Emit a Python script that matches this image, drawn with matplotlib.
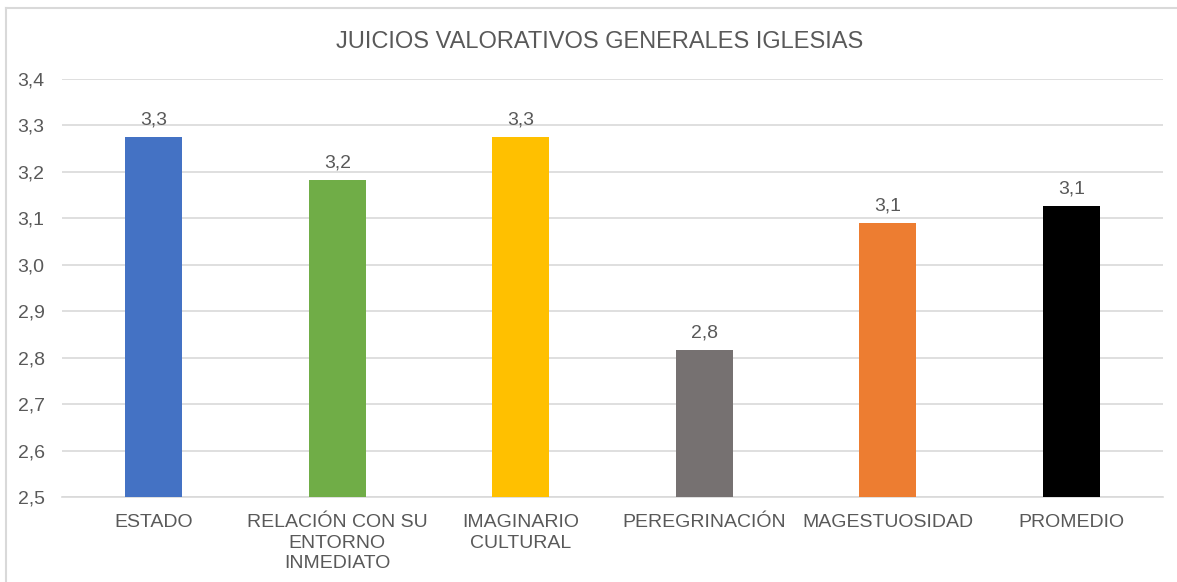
import matplotlib.pyplot as plt
from matplotlib.lines import Line2D

plt.rcParams['font.family'] = ['Liberation Sans', 'DejaVu Sans']

categories = ['ESTADO', 'RELACIÓN CON SU\nENTORNO\nINMEDIATO', 'IMAGINARIO\nCULTURAL',
              'PEREGRINACIÓN', 'MAGESTUOSIDAD', 'PROMEDIO']
values = [3.275, 3.182, 3.275, 2.816, 3.090, 3.126]
colors = ['#4472C4', '#70AD47', '#FFC000', '#767171', '#ED7D31', '#000000']
yticks = [2.5, 2.6, 2.7, 2.8, 2.9, 3.0, 3.1, 3.2, 3.3, 3.4]

text_color = '#595959'
grid_color = '#D9D9D9'

fig = plt.figure(figsize=(11.77, 5.82), dpi=100)
ax = fig.add_axes([62 / 1177, 1 - 497 / 582, (1163 - 62) / 1177, (497 - 79) / 582])

x = range(len(categories))
bars = ax.bar(x, values, width=0.31, color=colors, zorder=3)

for xi, v in zip(x, values):
    ax.text(xi, v + 0.018, f'{v:.1f}'.replace('.', ','), ha='center', va='bottom',
            fontsize=14, color=text_color)

ax.set_ylim(2.5, 3.4)
ax.set_xlim(-0.5, len(categories) - 0.5)
ax.set_yticks(yticks)
ax.set_yticklabels([f'{t:.1f}'.replace('.', ',') for t in yticks])
ax.set_xticks(list(x))
ax.set_xticklabels(categories, linespacing=1.3)
ax.tick_params(axis='both', length=0, labelsize=14, colors=text_color)
ax.tick_params(axis='x', pad=12)
ax.tick_params(axis='y', pad=32)
for lbl in ax.get_yticklabels():
    lbl.set_horizontalalignment('left')

ax.yaxis.grid(True, color=grid_color, linewidth=1.2, zorder=0)
for s in ['top', 'right', 'left']:
    ax.spines[s].set_visible(False)
ax.spines['bottom'].set_color(grid_color)
ax.spines['bottom'].set_linewidth(1.2)

fig.text(600 / 1177, 1 - 42 / 582, 'JUICIOS VALORATIVOS GENERALES IGLESIAS',
         ha='center', va='center', fontsize=17, color=text_color)

# frame of the chart area (left and top edges)
fig.add_artist(Line2D([6 / 1177, 6 / 1177], [0, 1 - 8 / 582], transform=fig.transFigure,
                      color='#D9D9D9', linewidth=1.5))
fig.add_artist(Line2D([6 / 1177, 1], [1 - 8 / 582, 1 - 8 / 582], transform=fig.transFigure,
                      color='#D9D9D9', linewidth=1.5))

fig.savefig('out.png', dpi=100, facecolor='white')
